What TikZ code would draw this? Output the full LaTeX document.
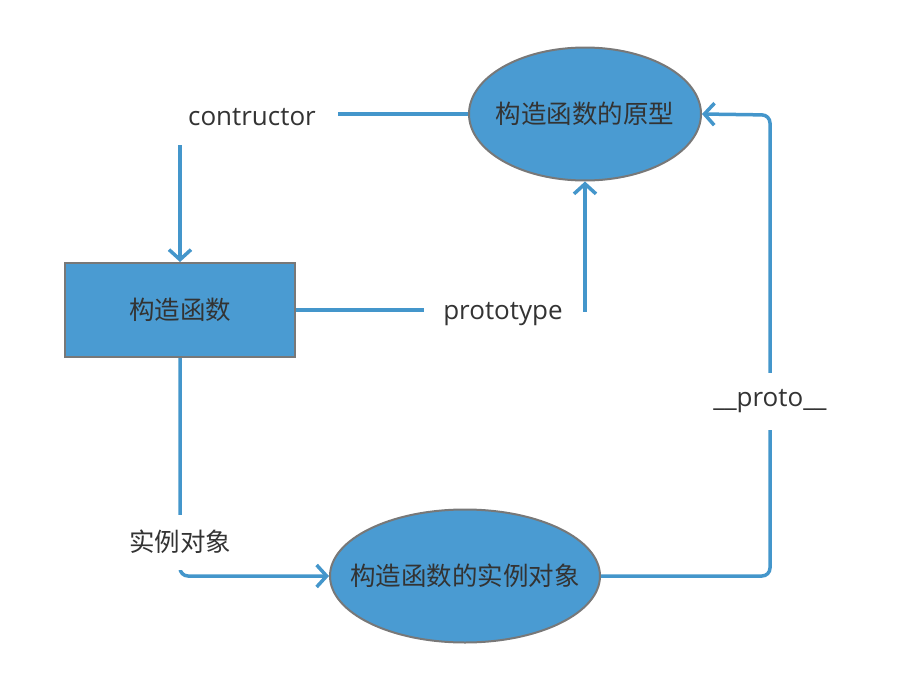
\documentclass[tikz,border=0pt]{standalone}
\usepackage{fontspec}
\setmainfont{Open Sans}
\newfontfamily\cjk{Noto Sans CJK SC}
\usetikzlibrary{arrows.meta,shapes.geometric}

\definecolor{boxblue}{HTML}{4A9BD2}
\definecolor{linkblue}{HTML}{4496CB}
\definecolor{edgegray}{HTML}{787878}
\definecolor{txtgray}{HTML}{333333}

\tikzset{
    entity/.style={fill=boxblue, draw=edgegray, line width=2pt, text=txtgray,
        font=\cjk\fontsize{25.5}{30}\selectfont, inner sep=0pt},
    oval/.style={entity, ellipse},
    box/.style={entity, rectangle},
    link/.style={draw=linkblue, line width=3.5pt,
        -{Straight Barb[length=10pt,width=22pt,line width=3.5pt]}},
    tag/.style={fill=white, text=txtgray, inner sep=0pt,
        font=\fontsize{26}{30}\selectfont},
}

\begin{document}
\begin{tikzpicture}[x=1pt,y=-1pt]
    \useasboundingbox (0,0) rectangle (898,696);

    \node[oval, minimum width=232pt, minimum height=133pt] (proto) at (585,114) {\makebox[0pt]{构造函数的原型}};
    \node[box, minimum width=230pt, minimum height=94pt] (ctor) at (180,310) {构造函数};
    \node[oval, minimum width=270pt, minimum height=133pt] (inst) at (465,576) {\makebox[0pt]{构造函数的实例对象}};
    \coordinate (bend) at (770,115);

    \draw[link] (proto.west) -| (ctor.north);
    \draw[link] (ctor.east) -| (proto.south);
    \draw[link, rounded corners=8pt] (ctor.south) |- (inst.west);
    \draw[link, rounded corners=8pt] (inst.east) -| (bend) -- (proto.east);

    \node[tag, minimum width=172pt, minimum height=56pt] (ctorlbl) at (252,117) {contructor};
    \node[tag, minimum width=159pt, minimum height=40pt] (protolbl) at (503,314) {prototype};
    \node[tag, minimum width=140pt, minimum height=57pt] (linklbl) at (770,401) {\_\_proto\_\_};
    \node[tag, font=\cjk\fontsize{25.5}{30}\selectfont, minimum width=120pt, minimum height=55pt] (instlbl) at (180,542) {实例对象};
\end{tikzpicture}
\end{document}
